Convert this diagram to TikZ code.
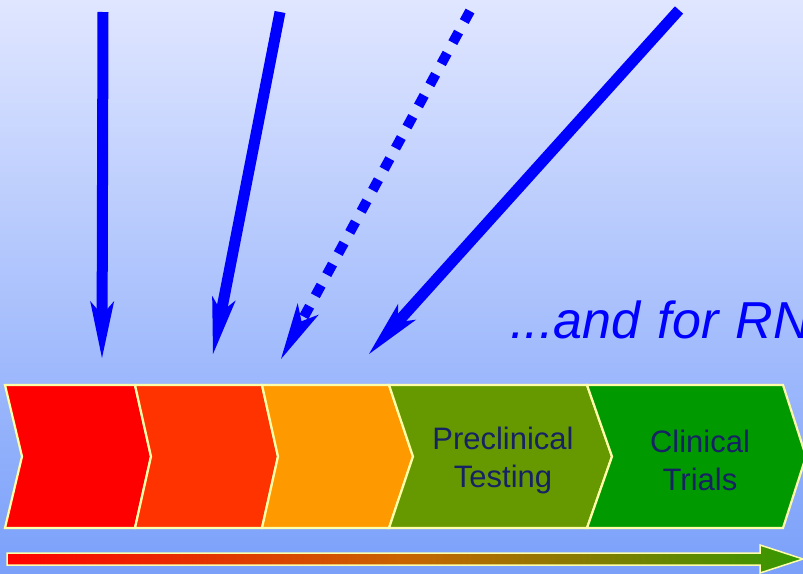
\documentclass[tikz,border=0pt]{standalone}
\usepackage{fontspec}
\setmainfont{Liberation Sans}
\usetikzlibrary{arrows.meta, positioning}
\definecolor{bgtop}{RGB}{224,230,255}
\definecolor{bgbot}{RGB}{122,160,250}
\definecolor{stageA}{RGB}{255,0,0}
\definecolor{stageB}{RGB}{255,51,0}
\definecolor{stageC}{RGB}{255,153,0}
\definecolor{stageD}{RGB}{102,153,0}
\definecolor{stageE}{RGB}{0,153,0}
\definecolor{rim}{RGB}{255,255,170}
\definecolor{navy}{RGB}{22,34,100}
\definecolor{barmid}{RGB}{200,100,0}
\definecolor{barend}{RGB}{51,153,0}
\tikzstyle{stage} = [draw=rim, line width=2.2pt]
\tikzstyle{stagetext} = [text=navy, font=\fontsize{31}{38}\selectfont, align=center]
\tikzstyle{hint} = [text=blue, font={\fontsize{52}{60}\selectfont\itshape\spaceskip=17.5pt\relax}, inner sep=0pt, anchor=base west]
\tikzstyle{arrow} = [draw=blue, line width=11pt, -{Stealth[length=57pt, width=24pt, inset=14pt, line width=0pt]}]

\begin{document}
\begin{tikzpicture}[x=1pt, y=-1pt]
        % Background
        \fill[top color=bgtop, bottom color=bgbot] (0,0) rectangle (803,573);
        \useasboundingbox (0,0) rectangle (803,573);

        % Stages
        \foreach \l/\n/\r/\p/\c in {5/22/135/151/stageA, 135/151/262/278/stageB, 262/278/389/413/stageC, 389/413/587/612/stageD, 587/612/783/806/stageE}
            \filldraw[stage, fill=\c] (\l,385) -- (\r,385) -- (\p,456.5) -- (\r,528) -- (\l,528) -- (\n,456.5) -- cycle;

        % Nodes
        \node (pre) [stagetext] at (503,460.5) {Preclinical\\Testing};
        \node (clin) [stagetext] at (700,460.5) {Clinical\\Trials};
        \node (rna) [hint] at (510,338) {...and for RN};

        \coordinate (s1) at (103,12);  \coordinate (t1) at (102,358);
        \coordinate (s2) at (280,12);  \coordinate (t2) at (213,354);
        \coordinate (s3) at (470,11);  \coordinate (t3) at (281,359);
        \coordinate (s4) at (679,10);  \coordinate (t4) at (369,354);

        % Arrows
        \draw [arrow] (s1) -- (t1);
        \draw [arrow] (s2) -- (t2);
        \draw [arrow, line width=10pt, dash pattern=on 12pt off 12pt] (s3) -- (t3);
        \draw [arrow] (s4) -- (t4);

        % time line
        \draw[draw=rim, line width=1.5pt, left color=stageA, right color=barend, middle color=barmid]
            (7,553) -- (760,553) -- (760,545) -- (803,559) -- (760,573) -- (760,565) -- (7,565) -- cycle;
    \end{tikzpicture}
\end{document}
